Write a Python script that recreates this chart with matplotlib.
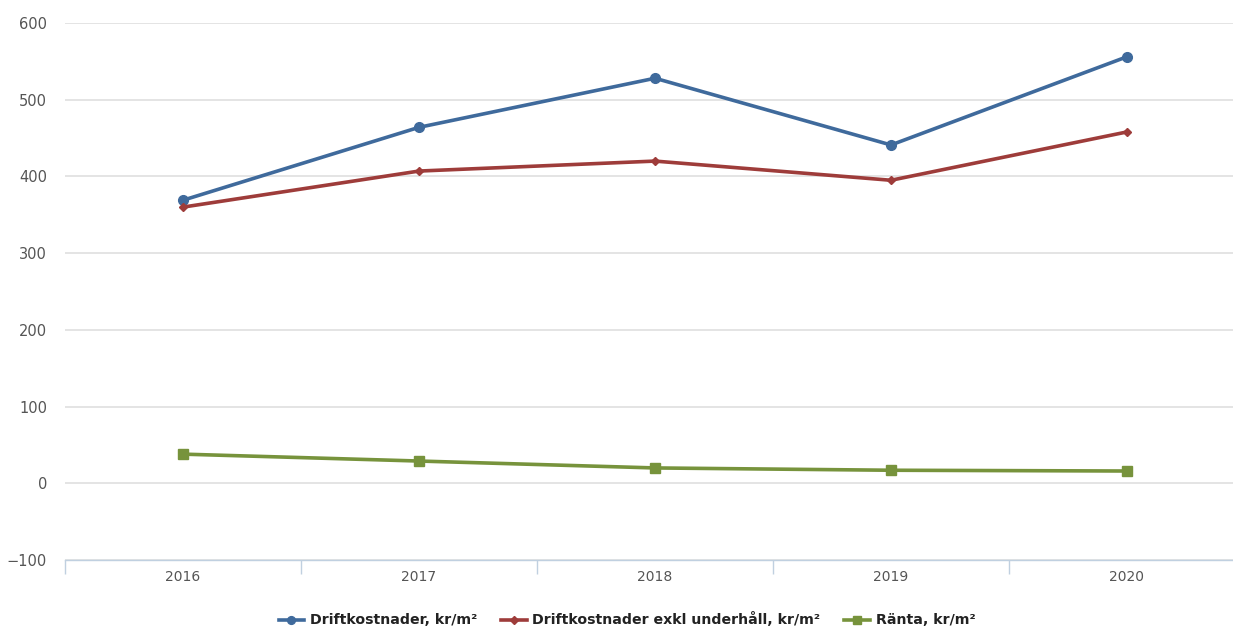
import matplotlib.pyplot as plt
from matplotlib.ticker import FixedLocator

# Yearly costs per square metre
years = ["2016", "2017", "2018", "2019", "2020"]
drift = [369, 464, 528, 441, 556]
drift_exkl = [360, 407, 420, 395, 458]
ranta = [38, 29, 20, 17, 16]

fig = plt.figure(figsize=(12.33, 6.30), dpi=100)
ax = fig.add_axes([65 / 1233, 70 / 630, 1180 / 1233, 537 / 630])

x = range(len(years))
ax.plot(x, drift, color="#3f6a9c", lw=2.6, marker="o", ms=7,
        label="Driftkostnader, kr/m²", zorder=3)
ax.plot(x, drift_exkl, color="#9e3c3a", lw=2.6, marker="D", ms=4.5,
        label="Driftkostnader exkl underhåll, kr/m²", zorder=3)
ax.plot(x, ranta, color="#77933c", lw=2.6, marker="s", ms=7,
        label="Ränta, kr/m²", zorder=3)

ax.set_xlim(-0.5, len(years) - 0.5)
ax.set_ylim(-100, 600)
ax.set_yticks(range(-100, 601, 100))
ax.set_yticklabels(["−100", "0", "100", "200", "300", "400", "500", "600"])
ax.yaxis.grid(True, color="#dcdcdc", lw=1.1)
ax.set_axisbelow(True)

ax.set_xticks(list(x))
ax.set_xticklabels(years)
ax.xaxis.set_minor_locator(FixedLocator([i - 0.5 for i in range(len(years) + 1)]))
ax.tick_params(axis="x", which="major", length=0, pad=7, labelsize=10, labelcolor="#555555")
ax.tick_params(axis="x", which="minor", length=10, width=1, color="#c0d0e0")
ax.tick_params(axis="y", length=0, pad=13, labelsize=10.5, labelcolor="#555555")

for side in ["left", "right", "top"]:
    ax.spines[side].set_visible(False)
ax.spines["bottom"].set_color("#c0d0e0")
ax.spines["bottom"].set_linewidth(1)

leg = fig.legend(loc="center", bbox_to_anchor=(627 / 1233, 10 / 630), ncol=3, frameon=False,
                 fontsize=10.2, handlelength=1.8, columnspacing=1.7, handletextpad=0.4,
                 labelcolor="#222222", markerscale=0.8)
for t in leg.get_texts():
    t.set_fontweight("semibold")

fig.savefig("out.png", dpi=100)
